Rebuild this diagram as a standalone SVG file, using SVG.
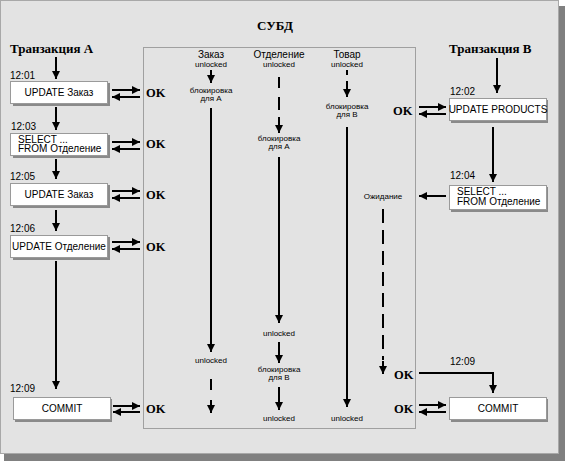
<svg xmlns="http://www.w3.org/2000/svg" width="565" height="461" viewBox="0 0 565 461">
<defs>
<marker id="ah" viewBox="0 0 8 8" refX="8" refY="4" markerWidth="8" markerHeight="8" markerUnits="userSpaceOnUse" orient="auto">
<path d="M0,0 L8,4 L0,8 z" fill="#000"/>
</marker>
<style>
.ln{stroke:#000;stroke-width:2;fill:none}
.ar{stroke:#000;stroke-width:2;fill:none;marker-end:url(#ah)}
.box{fill:#fff;stroke:#9a9a9a;stroke-width:1}
.sh{fill:#8a8a8a}
.bt{font-family:"Liberation Sans",Arial,sans-serif;font-size:10px;fill:#000}
.tm{font-family:"Liberation Sans",Arial,sans-serif;font-size:10px;fill:#000}
.sm{font-family:"Liberation Sans",Arial,sans-serif;font-size:8px;fill:#000;text-anchor:middle}
.hd{font-family:"Liberation Sans",Arial,sans-serif;font-size:10px;fill:#000;text-anchor:middle}
.ok{font-family:"Liberation Serif","Times New Roman",serif;font-size:12.5px;font-weight:bold;fill:#000}
.tt{font-family:"Liberation Serif","Times New Roman",serif;font-size:13px;font-weight:bold;fill:#000}
</style>
</defs>
<rect x="4" y="6" width="561" height="455" fill="#808080"/>
<rect x="0.5" y="0.5" width="558" height="453" fill="#e3e3e3" stroke="#a8a8a8"/>
<rect x="143.5" y="47.5" width="272" height="381" fill="none" stroke="#a0a0a0"/>
<text class="tt" x="275" y="30" text-anchor="middle" font-size="12px">СУБД</text>

<g id="txA"><text class="tt" x="10" y="53">Транзакция А</text></g>
<g id="txB"><text class="tt" x="449" y="53">Транзакция В</text></g>

<g id="a1"><text class="tm" x="10" y="79">12:01</text><rect class="sh" x="13" y="83" width="97" height="23"/><rect class="box" x="10.5" y="81.5" width="97" height="22"/><text class="bt" x="59" y="96" text-anchor="middle">UPDATE Заказ</text></g>
<g id="a2"><text class="tm" x="11" y="130">12:03</text><rect class="sh" x="13" y="135" width="97" height="23"/><rect class="box" x="10.5" y="133.5" width="97" height="22"/><text class="bt" x="18" y="142.5">SELECT ...</text><text class="bt" x="18" y="152">FROM Отделение</text></g>
<g id="a3"><text class="tm" x="10" y="180">12:05</text><rect class="sh" x="13" y="185" width="97" height="23"/><rect class="box" x="10.5" y="183.5" width="97" height="22"/><text class="bt" x="59" y="198" text-anchor="middle">UPDATE Заказ</text></g>
<g id="a4"><text class="tm" x="10" y="232">12:06</text><rect class="sh" x="13" y="237" width="97" height="23"/><rect class="box" x="10.5" y="235.5" width="97" height="22"/><text class="bt" x="59" y="250" text-anchor="middle">UPDATE Отделение</text></g>
<g id="a5"><text class="tm" x="10" y="392">12:09</text><rect class="sh" x="15" y="399" width="97" height="23"/><rect class="box" x="13.5" y="397.5" width="97" height="22"/><text class="bt" x="62" y="412" text-anchor="middle" font-size="9.5px">COMMIT</text></g>

<g id="b1"><text class="tm" x="450" y="95">12:02</text><rect class="sh" x="451" y="100" width="97" height="23"/><rect class="box" x="449.5" y="98.5" width="97" height="22"/><text class="bt" x="498" y="113" text-anchor="middle" font-size="9px">UPDATE PRODUCTS</text></g>
<g id="b2"><text class="tm" x="450" y="179">12:04</text><rect class="sh" x="451" y="187" width="97" height="25"/><rect class="box" x="449.5" y="185.5" width="97" height="24"/><text class="bt" x="457" y="195">SELECT ...</text><text class="bt" x="457" y="205">FROM Отделение</text></g>
<g id="b3"><text class="tm" x="450" y="365">12:09</text><rect class="sh" x="451" y="399" width="97" height="23"/><rect class="box" x="449.5" y="397.5" width="97" height="22"/><text class="bt" x="498" y="412" text-anchor="middle" font-size="9.5px">COMMIT</text></g>

<g id="oks">
<text class="ok" x="146" y="97">OK</text>
<text class="ok" x="146" y="148">OK</text>
<text class="ok" x="146" y="199">OK</text>
<text class="ok" x="146" y="251">OK</text>
<text class="ok" x="146" y="413">OK</text>
<text class="ok" x="393" y="115">OK</text>
<text class="ok" x="394" y="379">OK</text>
<text class="ok" x="394" y="413">OK</text>
</g>

<g id="dbms">
<text class="hd" x="211" y="58">Заказ</text><text class="sm" x="211" y="67">unlocked</text>
<text class="sm" x="211" y="93">блокировка</text><text class="sm" x="211" y="101">для А</text>
<text class="sm" x="211" y="363">unlocked</text>
<text class="hd" x="279" y="58">Отделение</text><text class="sm" x="279" y="67">unlocked</text>
<text class="sm" x="279" y="141">блокировка</text><text class="sm" x="279" y="149">для А</text>
<text class="sm" x="279" y="336">unlocked</text>
<text class="sm" x="279" y="372">блокировка</text><text class="sm" x="279" y="380">для В</text>
<text class="sm" x="279" y="421">unlocked</text>
<text class="hd" x="347" y="58">Товар</text><text class="sm" x="347" y="67">unlocked</text>
<text class="sm" x="347" y="109">блокировка</text><text class="sm" x="347" y="117">для В</text>
<text class="sm" x="347" y="421">unlocked</text>
<text class="sm" x="383" y="199">Ожидание</text>
</g>

<g id="connectors">
<line class="ar" x1="56" y1="57" x2="56" y2="79"/>
<line class="ar" x1="56" y1="107" x2="56" y2="130"/>
<line class="ar" x1="56" y1="159" x2="56" y2="179"/>
<line class="ar" x1="56" y1="210" x2="56" y2="231"/>
<line class="ar" x1="56" y1="261" x2="56" y2="389"/>
<line class="ar" x1="112" y1="90" x2="140" y2="90"/><line class="ar" x1="140" y1="97" x2="112" y2="97"/>
<line class="ar" x1="112" y1="142" x2="140" y2="142"/><line class="ar" x1="140" y1="149" x2="112" y2="149"/>
<line class="ar" x1="112" y1="191" x2="140" y2="191"/><line class="ar" x1="140" y1="198" x2="112" y2="198"/>
<line class="ar" x1="112" y1="242" x2="140" y2="242"/><line class="ar" x1="140" y1="249" x2="112" y2="249"/>
<line class="ar" x1="113" y1="406" x2="140" y2="406"/><line class="ar" x1="140" y1="412" x2="113" y2="412"/>
<line class="ar" x1="497" y1="58" x2="497" y2="93"/>
<line class="ar" x1="419" y1="107" x2="446" y2="107"/><line class="ar" x1="446" y1="114" x2="419" y2="114"/>
<line class="ar" x1="493" y1="127" x2="493" y2="182"/>
<line class="ar" x1="446" y1="196" x2="419" y2="196"/>
<line class="ln" x1="383" y1="209" x2="383" y2="360" stroke-dasharray="14,7"/>
<line class="ar" x1="383" y1="361" x2="383" y2="374"/>
<polyline class="ar" points="419,373 493,373 493,393"/>
<line class="ar" x1="419" y1="405" x2="446" y2="405"/><line class="ar" x1="446" y1="412" x2="419" y2="412"/>
<line class="ar" x1="211" y1="70" x2="211" y2="83"/>
<line class="ln" x1="211" y1="108" x2="211" y2="345"/><line class="ar" x1="211" y1="344" x2="211" y2="352"/>
<line class="ln" x1="211" y1="379" x2="211" y2="390"/>
<line class="ar" x1="211" y1="400" x2="211" y2="413"/>
<line class="ln" x1="279" y1="77" x2="279" y2="88"/>
<line class="ln" x1="279" y1="97" x2="279" y2="110"/>
<line class="ar" x1="279" y1="117" x2="279" y2="133"/>
<line class="ar" x1="279" y1="157" x2="279" y2="323"/>
<line class="ar" x1="279" y1="342" x2="279" y2="363"/>
<line class="ar" x1="279" y1="387" x2="279" y2="410"/>
<line class="ln" x1="347" y1="70" x2="347" y2="75"/>
<line class="ar" x1="347" y1="81" x2="347" y2="97"/>
<line class="ar" x1="347" y1="127" x2="347" y2="407"/>
</g>
</svg>
